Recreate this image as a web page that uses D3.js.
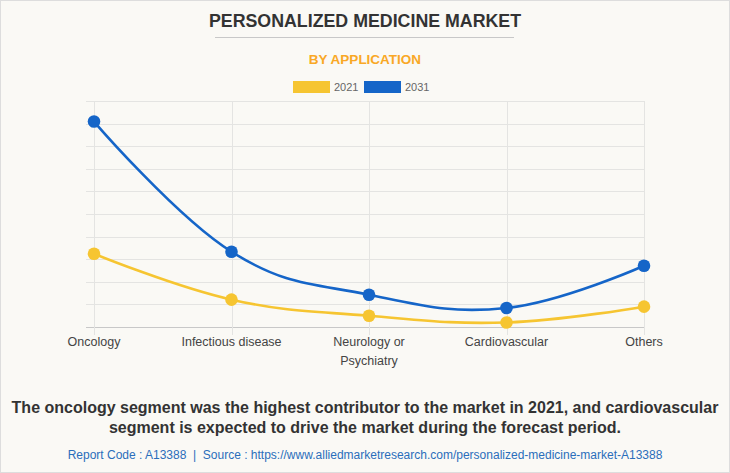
<!DOCTYPE html>
<html>
<head>
<meta charset="utf-8">
<script src="https://cdn.jsdelivr.net/npm/d3@7"></script>
<style>
  html, body { margin: 0; padding: 0; background: #fff; }
  svg { display: block; }
</style>
</head>
<body>
<svg id="chart" width="730" height="473"></svg>
<script>
const categories = ["Oncology", "Infectious disease", "Neurology or\nPsychiatry", "Cardiovascular", "Others"];
const seriesNames = ["2021", "2031"];
const values2021 = [324, 121, 50, 20, 90];
const values2031 = [909, 333, 143, 84, 271];
const yTicks = [0, 100, 200, 300, 400, 500, 600, 700, 800, 900, 1000];
const colors = ["#F6C531", "#1565C8"];

const svg = d3.select("#chart");
const W = 730, H = 473;
const font = "'Liberation Sans', Arial, sans-serif";

// background + border
svg.append("rect").attr("x", 0.5).attr("y", 0.5).attr("width", W - 1).attr("height", H - 1)
  .attr("fill", "#FAF9F5").attr("stroke", "#DDDDDD");

// title
svg.append("text").attr("x", 365).attr("y", 27).attr("text-anchor", "middle")
  .attr("font-family", font).attr("font-weight", "bold").attr("font-size", 17.8)
  .attr("fill", "#333").text("PERSONALIZED MEDICINE MARKET");
svg.append("line").attr("x1", 215).attr("x2", 514).attr("y1", 37.5).attr("y2", 37.5)
  .attr("stroke", "#C8C8C8").attr("stroke-width", 1);
svg.append("text").attr("x", 365).attr("y", 64).attr("text-anchor", "middle")
  .attr("font-family", font).attr("font-weight", "bold").attr("font-size", 13.5)
  .attr("fill", "#F9A825").text("BY APPLICATION");

// legend
const legendX = [293, 364];
seriesNames.forEach((n, i) => {
  svg.append("rect").attr("x", legendX[i]).attr("y", 81).attr("width", 37).attr("height", 12)
    .attr("fill", colors[i]);
  svg.append("text").attr("x", legendX[i] + 41).attr("y", 91)
    .attr("font-family", font).attr("font-size", 11).attr("fill", "#666").text(n);
});

// scales
const x = d3.scalePoint().domain(categories).range([94, 644]);
const y = d3.scaleLinear().domain([0, 1000]).range([327, 101]);

const g = svg.append("g");
// horizontal grid
g.selectAll(".hg").data(yTicks).join("line")
  .attr("x1", 86).attr("x2", 644)
  .attr("y1", d => Math.round(y(d)) + 0.5).attr("y2", d => Math.round(y(d)) + 0.5)
  .attr("stroke", d => d === 0 ? "#C8C8C8" : "#E4E4E2").attr("stroke-width", 1);
// vertical grid
g.selectAll(".vg").data(categories).join("line")
  .attr("x1", d => Math.round(x(d)) + 0.5).attr("x2", d => Math.round(x(d)) + 0.5)
  .attr("y1", y(1000)).attr("y2", 335)
  .attr("stroke", "#E4E4E2").attr("stroke-width", 1);

// x labels
categories.forEach(c => {
  const lines = c.split("\n");
  const t = svg.append("text").attr("x", x(c)).attr("y", 346).attr("text-anchor", "middle")
    .attr("font-family", font).attr("font-size", 12.5).attr("fill", "#444");
  lines.forEach((l, i) => t.append("tspan").attr("x", x(c)).attr("dy", i === 0 ? 0 : 19).text(l));
});

// lines
const line = d3.line().x((d, i) => x(categories[i])).y(d => y(d)).curve(d3.curveCardinal.tension(-0.2));
[values2021, values2031].forEach((vals, si) => {
  svg.append("path").datum(vals).attr("d", line).attr("fill", "none")
    .attr("stroke", colors[si]).attr("stroke-width", 2.6);
});
[values2021, values2031].forEach((vals, si) => {
  svg.selectAll(".pt" + si).data(vals).join("circle")
    .attr("cx", (d, i) => x(categories[i])).attr("cy", d => y(d)).attr("r", 6.3)
    .attr("fill", colors[si]);
});

// footer
const foot = svg.append("text").attr("x", 365).attr("y", 413).attr("text-anchor", "middle")
  .attr("font-family", font).attr("font-weight", "bold").attr("font-size", 16).attr("fill", "#333");
foot.append("tspan").attr("x", 365).text("The oncology segment was the highest contributor to the market in 2021, and cardiovascular");
foot.append("tspan").attr("x", 365).attr("dy", 20).text("segment is expected to drive the market during the forecast period.");

svg.append("text").attr("x", 365).attr("y", 459).attr("text-anchor", "middle")
  .attr("font-family", font).attr("font-size", 12).attr("fill", "#2A6EBB")
  .attr("xml:space", "preserve")
  .text("Report Code : A13388  |  Source : https://www.alliedmarketresearch.com/personalized-medicine-market-A13388");
</script>
</body>
</html>
